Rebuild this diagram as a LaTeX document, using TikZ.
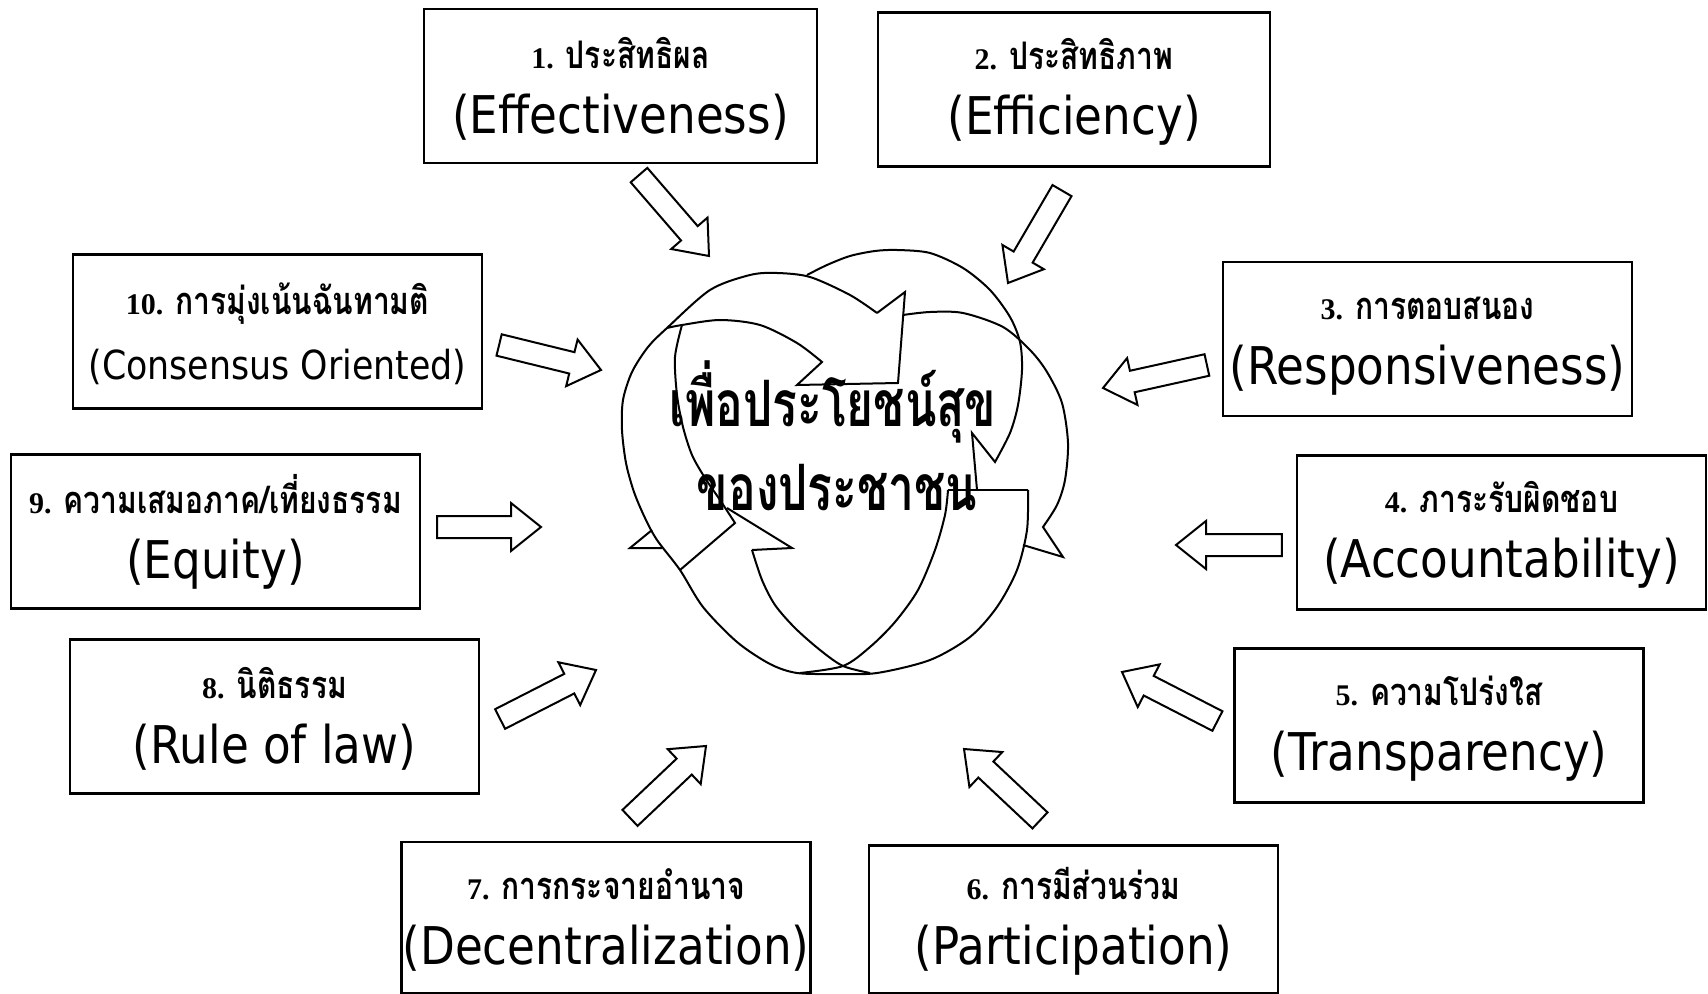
\documentclass[tikz,border=0pt]{standalone}
\usepackage{fontspec}
\setmainfont{Liberation Serif}
\newfontfamily\thaifont[Script=Thai, FakeStretch=0.79]{Loma}
\newfontfamily\goalfont[Script=Thai, FakeStretch=0.72]{Loma}
\newfontfamily\engfont[FakeStretch=0.87]{DejaVu Sans}
\usetikzlibrary{calc}

\newcommand\thlabel[2]{\rule{0pt}{18pt}{\bfseries\fontsize{15}{18}\selectfont #1}\ \ {\thaifont\bfseries\fontsize{19}{20}\selectfont #2}}
\newcommand\enlabel[1]{{\engfont\fontsize{26}{30}\selectfont #1}}
% hollow block arrow from tail #1 to tip #2
\newcommand\hollowarrow[2]{%
  \coordinate (neck) at ($(#2)!15pt!(#1)$);
  \draw[blockarrow] ($(#1)!5.5pt!90:(#2)$) -- ($(neck)!5.5pt!90:(#2)$)
    -- ($(neck)!12pt!90:(#2)$) -- (#2) -- ($(neck)!12pt!-90:(#2)$)
    -- ($(neck)!5.5pt!-90:(#2)$) -- ($(#1)!5.5pt!-90:(#2)$) -- cycle;}

\begin{document}
\begin{tikzpicture}[x=0.5pt, y=-0.5pt,
    itembox/.style={draw, line width=1.1pt, minimum width=204.5pt,
      minimum height=77pt, align=center, inner sep=0pt,
      font=\fontsize{12}{32.5}\selectfont},
    blockarrow/.style={draw, fill=white, line width=1pt, line join=miter},
    band/.style={line width=1pt, line join=miter},
    goal/.style={font=\goalfont\bfseries\fontsize{32}{36}\selectfont, inner sep=0pt, anchor=base}]
  \useasboundingbox (0,0) rectangle (1708,994);

  \node[itembox, minimum width=196.5pt] (eff) at (620.5,86)
    {\thlabel{1.}{ประสิทธิผล}\\\enlabel{(Effectiveness)}};
  \node[itembox, minimum width=196pt] (effi) at (1074,89.5)
    {\thlabel{2.}{ประสิทธิภาพ}\\\enlabel{(Efficiency)}};
  \node[itembox] (resp) at (1427.5,339)
    {\thlabel{3.}{การตอบสนอง}\\\enlabel{(Responsiveness)}};
  \node[itembox] (acct) at (1501.5,532.5)
    {\thlabel{4.}{ภาระรับผิดชอบ}\\\enlabel{(Accountability)}};
  \node[itembox] (transp) at (1439,725.5)
    {\thlabel{5.}{ความโปร่งใส}\\\enlabel{(Transparency)}};
  \node[itembox, minimum height=74pt] (part) at (1073.5,919.5)
    {\thlabel{6.}{การมีส่วนร่วม}\\\enlabel{(Participation)}};
  \node[itembox, minimum height=75.5pt] (decen) at (606,917.5)
    {\thlabel{7.}{การกระจายอำนาจ}\\\enlabel{(Decentralization)}};
  \node[itembox] (law) at (274.5,716.5)
    {\thlabel{8.}{นิติธรรม}\\\enlabel{(Rule of law)}};
  \node[itembox] (equity) at (215.5,531.5)
    {\thlabel{9.}{ความเสมอภาค/เที่ยงธรรม}\\\enlabel{(Equity)}};
  \node[itembox] (consen) at (277.5,331.5)
    {\thlabel{10.}{การมุ่งเน้นฉันทามติ}\\{\engfont\fontsize{20}{24}\selectfont (Consensus Oriented)}};

  % arrows towards the centre
  \coordinate (h1) at (709,256);   \coordinate (h2) at (1008,283);
  \coordinate (h3) at (1103,388);  \coordinate (h4) at (1176,545);
  \coordinate (h5) at (1122,672);  \coordinate (h6) at (964,749);
  \coordinate (h7) at (706,746);   \coordinate (h8) at (596,670);
  \coordinate (h9) at (541,527);   \coordinate (h10) at (601,370);
  \hollowarrow{$(eff.south)+(18.5,11)$}{h1}
  \hollowarrow{$(effi.south)+(-12,23)$}{h2}
  \hollowarrow{$(resp.west)+(-15,26)$}{h3}
  \hollowarrow{$(acct.west)+(-14,12.5)$}{h4}
  \hollowarrow{$(transp.west)+(-16,-4.5)$}{h5}
  \hollowarrow{$(part.north)+(-33.5,-24)$}{h6}
  \hollowarrow{$(decen.north)+(24,-23)$}{h7}
  \hollowarrow{$(law.east)+(20,2.5)$}{h8}
  \hollowarrow{$(equity.east)+(16,-4.5)$}{h9}
  \hollowarrow{$(consen.east)+(16,13.5)$}{h10}

  % the cycle in the middle
  \draw[band] plot[smooth] coordinates {(877,313) (850,295) (810,277) (777,273)
    (750,275) (710,290) (667,328) (648,347) (632,372) (623,400) (622,430)
    (626,463) (634,492) (645,518) (657,540) (680,570) (703,607) (737,642)
    (770,664) (797,673) (837,674) (877,673) (930,660) (970,637) (997,607)
    (1017,570) (1027,530) (1028,490)};
  \draw[band] plot[smooth] coordinates {(807,275) (827,265) (850,256) (875,251)
    (897,250) (930,253) (963,268) (990,290) (1010,317) (1020,342) (1022,370)
    (1018,405) (1010,433) (995,462)} -- (972,433) -- (977,490);
  \draw[band] plot[smooth] coordinates {(667,328) (682,325) (720,320) (760,325)
    (797,343) (822,362)} -- (797,385) -- (898,383) -- (905,292) -- (877,313);
  \draw[band] plot[smooth] coordinates {(682,325) (675,357) (677,395) (683,427)
    (692,455) (705,478) (720,500) (735,523)} -- (680,570);
  \draw[band] (652,530) -- (630,548) -- (662,548);
  \draw[band] (727,508) -- (792,548) -- (752,550);
  \draw[band] plot[smooth] coordinates {(752,550) (762,580) (775,605) (795,628)
    (820,650) (843,666) (870,673)};
  \draw[band] plot[smooth] coordinates {(948,490) (945,515) (935,550) (918,590)
    (895,622) (870,647) (843,666) (800,673)};
  \draw[band] (948,490) -- (1028,490);
  \draw[band] plot[smooth] coordinates {(903,315) (930,312) (963,313) (1003,327)
    (1030,350) (1047,372) (1062,403) (1068,443) (1065,480) (1057,505)
    (1043,527)} -- (1063,557) -- (1023,545);

  \node[goal] (goal1) at (833,427) {เพื่อประโยชน์สุข};
  \node[goal] (goal2) at (837,510) {ของประชาชน};
\end{tikzpicture}
\end{document}
